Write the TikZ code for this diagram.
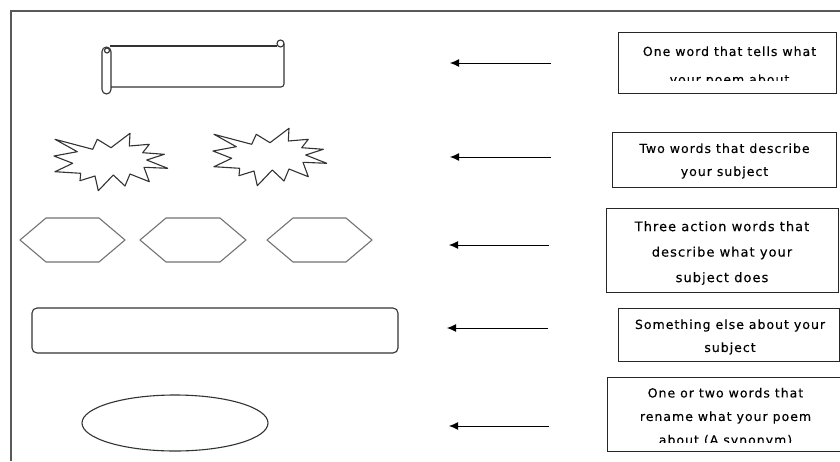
\documentclass[tikz,border=0pt]{standalone}
\usepackage{fontspec}
\newfontfamily\lblfont[LetterSpace=8,FakeBold=0.2]{DejaVu Sans}
\usetikzlibrary{arrows.meta}
\begin{document}
\begin{tikzpicture}[x=1pt,y=-1pt,
  frame/.style={draw=black!65, line width=1.4pt},
  outline/.style={draw=black!80, line width=1.1pt, line join=round},
  hexline/.style={draw=black!55, line width=1.1pt, line join=round},
  tbox/.style={draw=black!85, line width=1pt, inner sep=0pt, anchor=north west},
  lbl/.style={font=\lblfont\fontsize{12.5}{24}\selectfont, align=center, inner sep=0pt},
  pointer/.style={draw=black, line width=1pt, -{Latex[length=9pt,width=8pt]}}]
\useasboundingbox (0,0) rectangle (840,461);
\fill[white] (0,0) rectangle (840,461);
% frame
\draw[frame] (11,461) -- (11,11) -- (840,11);
% scroll
\draw[outline] (110,46) -- (277,46);
\draw[outline] (280.5,43.5) circle (3.5);
\draw[outline] (284,43.5) -- (284,84) arc (0:90:3) -- (111,87);
\draw[outline, rounded corners=4.5pt] (102,47) rectangle (111,94);
\draw[outline] (107,50.5) circle (2.5);
% starbursts
\def\burst{(55,139.3) -- (92.7,149.3) -- (97.3,139.3) -- (111,147.7) -- (130,133.3) -- (129.3,146) -- (149.3,144.3) -- (142.7,152.7) -- (164.3,154.3) -- (146.7,160) -- (167.7,168.3) -- (144,167.3) -- (149.3,181.7) -- (130,174) -- (125,186) -- (113.3,175) -- (98.3,190.7) -- (95,176) -- (80,180.7) -- (80.7,173.3) -- (55,171.7) -- (72.7,163.3) -- (54,156) -- (77.3,151.7) -- cycle}
\draw[outline] \burst;
\begin{scope}[shift={(159,-5)}]
\draw[outline] \burst;
\end{scope}
% hexagons
\draw[hexline] (20,240) -- (46,218) -- (99,218) -- (125,240) -- (99,262) -- (46,262) -- cycle;
\draw[hexline] (140,240) -- (166,218) -- (220,218) -- (246,240) -- (220,262) -- (166,262) -- cycle;
\draw[hexline] (267,240) -- (293,218) -- (346,218) -- (372,240) -- (346,262) -- (293,262) -- cycle;
% rounded rectangle
\draw[outline, rounded corners=5pt] (32,308) rectangle (398,353);
% ellipse
\draw[outline] (175,423) ellipse [x radius=93, y radius=28];
% text boxes
\node[tbox, minimum width=218pt, minimum height=61pt] (b1) at (618,32) {};
\node[tbox, minimum width=224pt, minimum height=55pt] (b2) at (612,132) {};
\node[tbox, minimum width=232pt, minimum height=84pt] (b3) at (606,208) {};
\node[tbox, minimum width=221pt, minimum height=53pt] (b4) at (618,308) {};
\node[tbox, minimum width=240pt, minimum height=74pt] (b5) at (607,377) {};
\begin{scope}
\clip (618,32) rectangle (836,80.5);
\node[lbl, font=\lblfont\fontsize{12.5}{28}\selectfont] (t1) at (729.5,66.5) {One word that tells what\\your poem about};
\end{scope}
\node[lbl, font=\lblfont\fontsize{12.5}{23}\selectfont] (t2) at (724.5,161) {Two words that describe\\your subject};
\node[lbl, font=\lblfont\fontsize{13}{25.5}\selectfont] (t3) at (722,253) {Three action words that\\describe what your\\subject does};
\node[lbl, font=\lblfont\fontsize{12.5}{23}\selectfont] (t4) at (730,337) {Something else about your\\subject};
\begin{scope}
\clip (607,377) rectangle (840,442.5);
\node[lbl, font=\lblfont\fontsize{12.5}{23.5}\selectfont] (t5) at (725.5,417.5) {One or two words that\\rename what your poem\\about (A synonym)};
\end{scope}
% arrows
\coordinate (a1s) at (551,63);  \coordinate (a1e) at (450,63);
\coordinate (a2s) at (551,157); \coordinate (a2e) at (450,157);
\coordinate (a3s) at (549,245); \coordinate (a3e) at (449,245);
\coordinate (a4s) at (548,328); \coordinate (a4e) at (447,328);
\coordinate (a5s) at (549,426); \coordinate (a5e) at (449,426);
\draw[pointer] (a1s) -- (a1e);
\draw[pointer] (a2s) -- (a2e);
\draw[pointer] (a3s) -- (a3e);
\draw[pointer] (a4s) -- (a4e);
\draw[pointer] (a5s) -- (a5e);
\end{tikzpicture}
\end{document}
